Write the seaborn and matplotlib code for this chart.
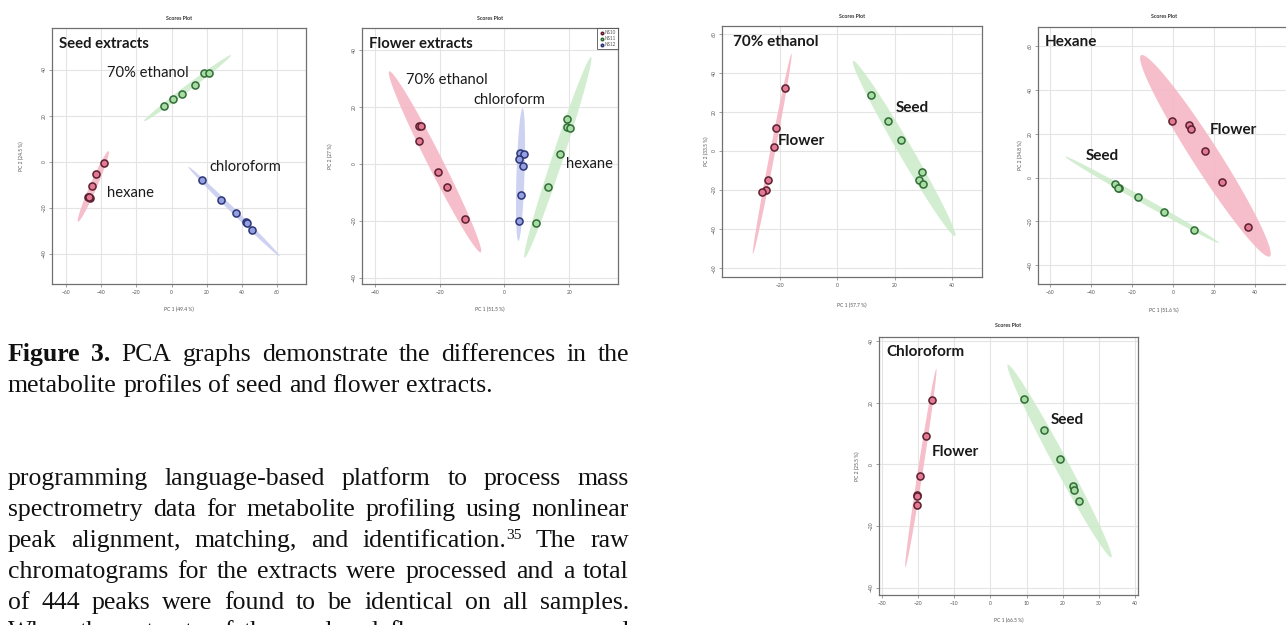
import numpy as np
import pandas as pd
import matplotlib
matplotlib.use("Agg")
import matplotlib.pyplot as plt
import seaborn as sns

W, H = 1286, 625
sns.set_theme(style="whitegrid")
plt.rcParams['font.family'] = ['Lato', 'DejaVu Sans']

# ---------------- data ----------------
# Panel 1: Seed extracts
p1_eth_x = [-4.5, 1.0, 6.2, 13.2, 18.2, 21.6]
p1_eth_y = [24.3, 27.4, 29.5, 33.4, 38.3, 38.6]
p1_hex_x = [-38.3, -42.7, -45.5, -47.8, -46.5, -47.2]
p1_hex_y = [-0.7, -5.3, -10.7, -15.2, -15.7, -15.3]
p1_chl_x = [17.2, 27.9, 36.8, 42.3, 42.8, 45.7]
p1_chl_y = [-7.8, -16.6, -22.4, -26.3, -26.5, -29.6]
p1_eth_ell = [(-15.7, 17.6), (33.8, 46.2)]
p1_hex_ell = [(-53.2, -26.0), (-35.8, 4.6)]
p1_chl_ell = [(9.6, -2.2), (61.5, -40.9)]

# Panel 2: Flower extracts
p2_eth_x = [-26.4, -25.6, -26.4, -20.6, -17.6, -12.3]
p2_eth_y = [13.1, 13.1, 8.0, -2.7, -8.2, -19.2]
p2_chl_x = [4.7, 6.0, 4.4, 5.6, 5.1, 4.4]
p2_chl_y = [3.7, 3.4, 1.6, -0.8, -10.9, -20.1]
p2_hex_x = [19.3, 19.4, 20.1, 17.0, 13.4, 9.6]
p2_hex_y = [15.8, 12.9, 12.7, 3.4, -8.2, -20.9]
p2_eth_ell = [(-35.5, 32.4), (-7.3, -31.0)]
p2_chl_ell = [(5.6, 19.5), (4.3, -27.0)]
p2_hex_ell = [(6.2, -32.9), (26.7, 37.4)]
p2_legend = ["NS10", "NS11", "NS12"]

# Panel 3: 70% ethanol
p3_flw_x = [-18.4, -21.3, -22.2, -24.3, -24.8, -26.3]
p3_flw_y = [32.4, 11.9, 2.0, -14.8, -19.8, -21.0]
p3_sed_x = [11.8, 17.7, 22.3, 29.5, 28.4, 29.9]
p3_sed_y = [28.7, 15.4, 5.5, -10.9, -15.0, -16.7]
p3_flw_ell = [(-29.5, -52.6), (-16.0, 49.8)]
p3_sed_ell = [(5.5, 46.1), (41.1, -43.5)]

# Panel 4: Hexane
p4_flw_x = [-0.7, 8.0, 9.0, 15.6, 24.0, 36.5]
p4_flw_y = [25.9, 24.0, 22.3, 12.3, -2.0, -22.5]
p4_sed_x = [-28.2, -26.3, -26.8, -17.1, -4.3, 10.3]
p4_sed_y = [-3.0, -4.6, -4.9, -8.8, -15.8, -24.0]
p4_flw_ell = [(-15.6, 55.8), (47.3, -36.0)]
p4_sed_ell = [(-52.7, 9.6), (22.5, -29.9)]

# Panel 5: Chloroform
p5_flw_x = [-16.2, -18.0, -19.5, -20.5, -20.4, -20.5]
p5_flw_y = [20.9, 9.1, -3.7, -9.9, -10.2, -13.2]
p5_sed_x = [9.3, 14.8, 19.4, 22.9, 23.1, 24.6]
p5_sed_y = [21.3, 11.1, 1.9, -7.0, -8.2, -11.9]
p5_flw_ell = [(-23.6, -33.4), (-15.0, 31.1)]
p5_sed_ell = [(4.8, 32.4), (33.5, -30.2)]

# ---------------- style ----------------
RED = dict(face="#e37a93", edge="#5c1f30", fill="#f5b7c5")
GREEN = dict(face="#a9dba4", edge="#2f6d36", fill="#cdeccb")
BLUE = dict(face="#94a0e2", edge="#2c3677", fill="#c8cdf0")

fig = plt.figure(figsize=(W / 100, H / 100), dpi=100)


def make_ax(l, r, t, b):
    return fig.add_axes([l / W, 1 - b / H, (r - l) / W, (b - t) / H])


def style_ax(ax, xlim, ylim, xticks, yticks, xlabel, ylabel, title_y, xl_y, yl_x, hide_right=False):
    ax.set_xlim(*xlim)
    ax.set_ylim(*ylim)
    ax.set_xticks(xticks)
    ax.set_yticks(yticks)
    ax.grid(True, color="#e4e4e4", lw=0.8)
    for s in ax.spines.values():
        s.set_color("#707070")
        s.set_linewidth(0.9)
    if hide_right:
        ax.spines["right"].set_visible(False)
    ax.tick_params(axis="both", length=2.5, width=0.5, color="#777777",
                   labelsize=3.6, labelcolor="#555555", pad=1.5, bottom=True, left=True)
    for lab in ax.get_yticklabels():
        lab.set_rotation(90)
        lab.set_va("center")
    bb = ax.get_position()
    cx = (bb.x0 + bb.x1) / 2
    fig.text(cx, 1 - title_y / H, "Scores Plot", ha="center", va="center",
             fontsize=3.8, color="#333333", weight="bold")
    fig.text(cx, 1 - xl_y / H, xlabel, ha="center", va="center",
             fontsize=3.6, color="#555555")
    cy = (bb.y0 + bb.y1) / 2
    fig.text(yl_x / W, cy, ylabel, ha="center", va="center", rotation=90,
             fontsize=3.6, color="#555555")


def finish_ax(ax):
    ax.set_xlabel("")
    ax.set_ylabel("")


def scatter(ax, xs, ys, col, label=None):
    df = pd.DataFrame({"x": xs, "y": ys})
    sns.scatterplot(data=df, x="x", y="y", ax=ax, s=26, color=col["face"],
                    edgecolor=col["edge"], linewidth=1.1, zorder=3, label=label,
                    legend=False)


def ellipse(ax, ends, width_px, col):
    d1 = ax.transData.transform(ends[0])
    d2 = ax.transData.transform(ends[1])
    c = (d1 + d2) / 2
    a = (d2 - d1) / 2
    u = a / np.hypot(*a)
    n = np.array([-u[1], u[0]])
    t = np.linspace(0, 2 * np.pi, 240)
    pts = c + np.outer(np.cos(t), a) + np.outer(np.sin(t), n * width_px / 2)
    dat = ax.transData.inverted().transform(pts)
    ax.fill(dat[:, 0], dat[:, 1], color=col["fill"], lw=0, zorder=1, alpha=0.9)


def label(x, y, s, size, bold=False):
    fig.text(x / W, 1 - y / H, s, ha="left", va="center", fontsize=size,
             weight="bold" if bold else "normal", color="#1a1a1a")


# ---- Panel 1 ----
ax1 = make_ax(52, 306, 28, 284)
style_ax(ax1, (-68, 76.5), (-53, 58), [-60, -40, -20, 0, 20, 40, 60], [-40, -20, 0, 20, 40],
         "PC 1 (49.4 %)", "PC 2 (24.5 %)", 19, 309, 21)
ellipse(ax1, p1_eth_ell, 6, GREEN)
ellipse(ax1, p1_hex_ell, 7, RED)
ellipse(ax1, p1_chl_ell, 5, BLUE)
scatter(ax1, p1_eth_x, p1_eth_y, GREEN)
scatter(ax1, p1_hex_x, p1_hex_y, RED)
scatter(ax1, p1_chl_x, p1_chl_y, BLUE)
finish_ax(ax1)
label(59, 44, "Seed extracts", 10.7, True)
label(107, 73, "70% ethanol", 10.6)
label(107, 193, "hexane", 10.6)
label(209, 167, "chloroform", 10.6)

# ---- Panel 2 ----
ax2 = make_ax(362, 618, 28, 284)
style_ax(ax2, (-43.9, 35.0), (-42.1, 47.6), [-40, -20, 0, 20], [-40, -20, 0, 20, 40],
         "PC 1 (51.5 %)", "PC 2 (27 %)", 19, 309, 330)
ellipse(ax2, p2_eth_ell, 15, RED)
ellipse(ax2, p2_chl_ell, 8, BLUE)
ellipse(ax2, p2_hex_ell, 11, GREEN)
scatter(ax2, p2_eth_x, p2_eth_y, RED, p2_legend[0])
scatter(ax2, p2_hex_x, p2_hex_y, GREEN, p2_legend[1])
scatter(ax2, p2_chl_x, p2_chl_y, BLUE, p2_legend[2])
finish_ax(ax2)
h, l = ax2.get_legend_handles_labels()
leg = ax2.legend(h, l, loc="upper right", fontsize=3.3, markerscale=0.35, frameon=True,
                 fancybox=False, borderaxespad=0.0, borderpad=0.4, handletextpad=0.2,
                 labelspacing=0.25, handlelength=1.0)
leg.get_frame().set_edgecolor("#444444")
leg.get_frame().set_linewidth(0.7)
for t in leg.get_texts():
    t.set_color("#555555")
label(369, 44, "Flower extracts", 10.7, True)
label(406, 80, "70% ethanol", 10.6)
label(473, 100, "chloroform", 10.6)
label(566, 164, "hexane", 10.6)

# ---- Panel 3 ----
ax3 = make_ax(722, 982, 26, 277)
style_ax(ax3, (-40.3, 50.5), (-64.5, 64.0), [-20, 0, 20, 40], [-60, -40, -20, 0, 20, 40, 60],
         "PC 1 (57.7 %)", "PC 2 (33.5 %)", 16, 305, 706)
ellipse(ax3, p3_flw_ell, 5, RED)
ellipse(ax3, p3_sed_ell, 14, GREEN)
scatter(ax3, p3_flw_x, p3_flw_y, RED)
scatter(ax3, p3_sed_x, p3_sed_y, GREEN)
finish_ax(ax3)
label(733, 42, "70% ethanol", 11, True)
label(896, 108, "Seed", 11, True)
label(778, 141, "Flower", 11, True)

# ---- Panel 4 ----
ax4 = make_ax(1038, 1290, 27, 284)
style_ax(ax4, (-66, 57.2), (-48.6, 68.7), [-60, -40, -20, 0, 20, 40], [-40, -20, 0, 20, 40, 60],
         "PC 1 (51.6 %)", "PC 2 (34.8 %)", 16, 310, 1020, hide_right=True)
ellipse(ax4, p4_flw_ell, 27, RED)
ellipse(ax4, p4_sed_ell, 6, GREEN)
scatter(ax4, p4_flw_x, p4_flw_y, RED)
scatter(ax4, p4_sed_x, p4_sed_y, GREEN)
finish_ax(ax4)
label(1045, 42, "Hexane", 11, True)
label(1210, 130, "Flower", 11, True)
label(1086, 156, "Seed", 11, True)

# ---- Panel 5 ----
ax5 = make_ax(879, 1138, 337, 595)
style_ax(ax5, (-30.9, 40.9), (-42.4, 41.4), [-30, -20, -10, 0, 10, 20, 30, 40], [-40, -20, 0, 20, 40],
         "PC 1 (66.5 %)", "PC 2 (25.5 %)", 326, 620, 857)
ellipse(ax5, p5_flw_ell, 5, RED)
ellipse(ax5, p5_sed_ell, 14, GREEN)
scatter(ax5, p5_flw_x, p5_flw_y, RED)
scatter(ax5, p5_sed_x, p5_sed_y, GREEN)
finish_ax(ax5)
label(886, 352, "Chloroform", 11, True)
label(1051, 420, "Seed", 11, True)
label(932, 452, "Flower", 11, True)

# ---------------- body text (justified) ----------------
SERIF = ["Liberation Serif", "DejaVu Serif"]
renderer = fig.canvas.get_renderer()
X0, X1 = 8, 629

# each line: (baseline_px, justify, [words]); a word is a list of (text, bold, superscript)
lines = [
    (361, True, [[("Figure", 1, 0)], [("3.", 1, 0)]] + [[(w, 0, 0)] for w in
                 "PCA graphs demonstrate the differences in the".split()]),
    (392, False, [[(w, 0, 0)] for w in "metabolite profiles of seed and flower extracts.".split()]),
    (485, True, [[(w, 0, 0)] for w in "programming language-based platform to process mass".split()]),
    (516, True, [[(w, 0, 0)] for w in "spectrometry data for metabolite profiling using nonlinear".split()]),
    (547, True, [[(w, 0, 0)] for w in "peak alignment, matching, and".split()]
     + [[("identification.", 0, 0), ("35", 0, 1)]] + [[(w, 0, 0)] for w in "The raw".split()]),
    (578, True, [[(w, 0, 0)] for w in "chromatograms for the extracts were processed and a total".split()]),
    (609, True, [[(w, 0, 0)] for w in "of 444 peaks were found to be identical on all samples.".split()]),
    (638, True, [[(w, 0, 0)] for w in "When the extracts of the seed and flower were compared".split()]),
]


def piece_width(s, size, bold, sup):
    t = fig.text(0, 0, s, fontsize=size * (0.6 if sup else 1), family=SERIF,
                 weight="bold" if bold else "normal")
    w = t.get_window_extent(renderer).width
    t.remove()
    return w


REF = 16.0
space_ref = piece_width("a a", REF, 0, 0) - 2 * piece_width("a", REF, 0, 0)
nat = []
for _, _, words in lines:
    ww = sum(piece_width(s, REF, b, sp) for w in words for (s, b, sp) in w)
    nat.append(ww + space_ref * (len(words) - 1))
size = 0.97 * REF * (X1 - X0 - 2) / max(nat)

for (yb, just, words) in lines:
    widths = [sum(piece_width(s, size, b, sp) for (s, b, sp) in w) for w in words]
    if just and len(words) > 1:
        gap = (X1 - X0 - sum(widths)) / (len(words) - 1)
    else:
        gap = space_ref * size / REF
    x = X0
    for w, wd in zip(words, widths):
        xx = x
        for (s, b, sp) in w:
            fig.text(xx / W, 1 - (yb - (8 if sp else 0)) / H, s, ha="left", va="baseline",
                     fontsize=size * (0.6 if sp else 1), family=SERIF,
                     weight="bold" if b else "normal", color="#111111")
            xx += piece_width(s, size, b, sp)
        x += wd + gap

fig.savefig("out.png", dpi=100)
